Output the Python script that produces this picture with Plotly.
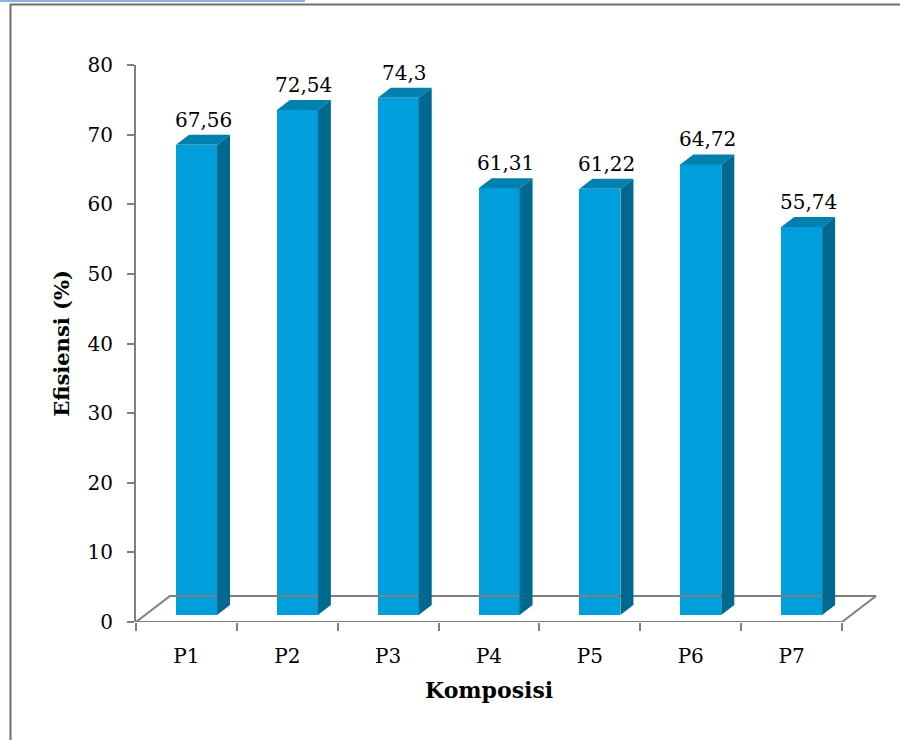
import plotly.graph_objects as go

# Efisiensi per komposisi
categories = ["P1", "P2", "P3", "P4", "P5", "P6", "P7"]
efisiensi = [67.56, 72.54, 74.3, 61.31, 61.22, 64.72, 55.74]
y_ticks = [0, 10, 20, 30, 40, 50, 60, 70, 80]

# pseudo-3D geometry (axis units)
BAR_W = 0.406          # front face width
BAR_SHIFT = 0.10       # bar offset from category centre (depth)
BASE = 1.0             # bar front face sits slightly above the floor edge
DX, DY = 0.129, 1.44   # extrusion of side / top faces
FLOOR_DX, FLOOR_DY = 0.337, 3.73

FRONT = "#009FDB"
SIDE = "#00698F"
TOP = "#0080AE"
AXIS = "#7F7F7F"
FONT = "DejaVu Serif"

fig = go.Figure()

# floor parallelogram
x0, x1 = -0.5, len(categories) - 0.5
fig.add_trace(go.Scatter(
    x=[x0, x0 + FLOOR_DX, x1 + FLOOR_DX, x1, x0],
    y=[0, FLOOR_DY, FLOOR_DY, 0, 0],
    mode="lines", line=dict(color=AXIS, width=2),
    hoverinfo="skip", showlegend=False,
))

# front faces
xs = [i + BAR_SHIFT for i in range(len(categories))]
fig.add_trace(go.Bar(
    x=xs, y=efisiensi, base=BASE, width=BAR_W,
    marker=dict(color=FRONT, line=dict(width=0)),
    showlegend=False, hoverinfo="skip",
))

# side and top faces
for xc, v in zip(xs, efisiensi):
    xl, xr = xc - BAR_W / 2, xc + BAR_W / 2
    yt = BASE + v
    fig.add_trace(go.Scatter(
        x=[xr, xr + DX, xr + DX, xr, xr],
        y=[BASE, BASE + DY, yt + DY, yt, BASE],
        fill="toself", fillcolor=SIDE, mode="lines",
        line=dict(width=0, color=SIDE), hoverinfo="skip", showlegend=False,
    ))
    fig.add_trace(go.Scatter(
        x=[xl, xr, xr + DX, xl + DX, xl],
        y=[yt, yt, yt + DY, yt + DY, yt],
        fill="toself", fillcolor=TOP, mode="lines",
        line=dict(width=0, color=TOP), hoverinfo="skip", showlegend=False,
    ))
    fig.add_annotation(
        x=xc + DX / 2, y=yt + DY, xref="x", yref="y",
        text=f"{v:g}".replace(".", ","), showarrow=False,
        yanchor="bottom", yshift=1,
        font=dict(family=FONT, size=20, color="#000000"),
    )

# x axis title
fig.add_annotation(
    x=(x0 + x1) / 2, y=-0.122, xref="x", yref="paper",
    text="<b>Komposisi</b>", showarrow=False, yanchor="middle",
    font=dict(family=FONT, size=22, color="#000000"),
)

# outer frame
W, H = 900, 740
L, R, T, B = 136, 23, 65, 118
pw, ph = W - L - R, H - T - B


def px(x):
    return (x - L) / pw


def py(y):
    return 1 - (y - T) / ph


frame = [
    dict(type="line", xref="paper", yref="paper", x0=px(0), x1=px(305), y0=py(1), y1=py(1),
         line=dict(color="#8DB3E2", width=2)),
    dict(type="line", xref="paper", yref="paper", x0=px(10), x1=px(900), y0=py(4.5), y1=py(4.5),
         line=dict(color="#6E6E6E", width=2)),
    dict(type="line", xref="paper", yref="paper", x0=px(10.5), x1=px(10.5), y0=py(4), y1=py(740),
         line=dict(color="#6E6E6E", width=2)),
]

fig.update_layout(
    width=W, height=H,
    margin=dict(l=L, r=R, t=T, b=B),
    paper_bgcolor="white", plot_bgcolor="white",
    shapes=frame,
    bargap=0,
    xaxis=dict(
        range=[x0, x1 + FLOOR_DX + 0.01],
        tickmode="array", tickvals=list(range(len(categories))), ticktext=categories,
        ticks="", showgrid=False, zeroline=False, showline=False,
        tickfont=dict(family=FONT, size=20, color="#000000"),
        minor=dict(tickmode="array", tickvals=[i - 0.5 for i in range(len(categories) + 1)],
                   ticks="outside", ticklen=8, tickcolor=AXIS, tickwidth=2, showgrid=False),
        ticklabelstandoff=20,
        fixedrange=True,
    ),
    yaxis=dict(
        range=[0, 80], tickmode="array", tickvals=y_ticks,
        ticks="outside", ticklen=7, tickcolor=AXIS, tickwidth=2,
        showline=True, linecolor=AXIS, linewidth=2,
        showgrid=False, zeroline=False,
        tickfont=dict(family=FONT, size=20, color="#000000"),
        ticklabelstandoff=10,
        title=dict(text="<b>Efisiensi (%)</b>", standoff=12,
                   font=dict(family=FONT, size=21, color="#000000")),
        fixedrange=True,
    ),
)

fig.write_html("out.html")
